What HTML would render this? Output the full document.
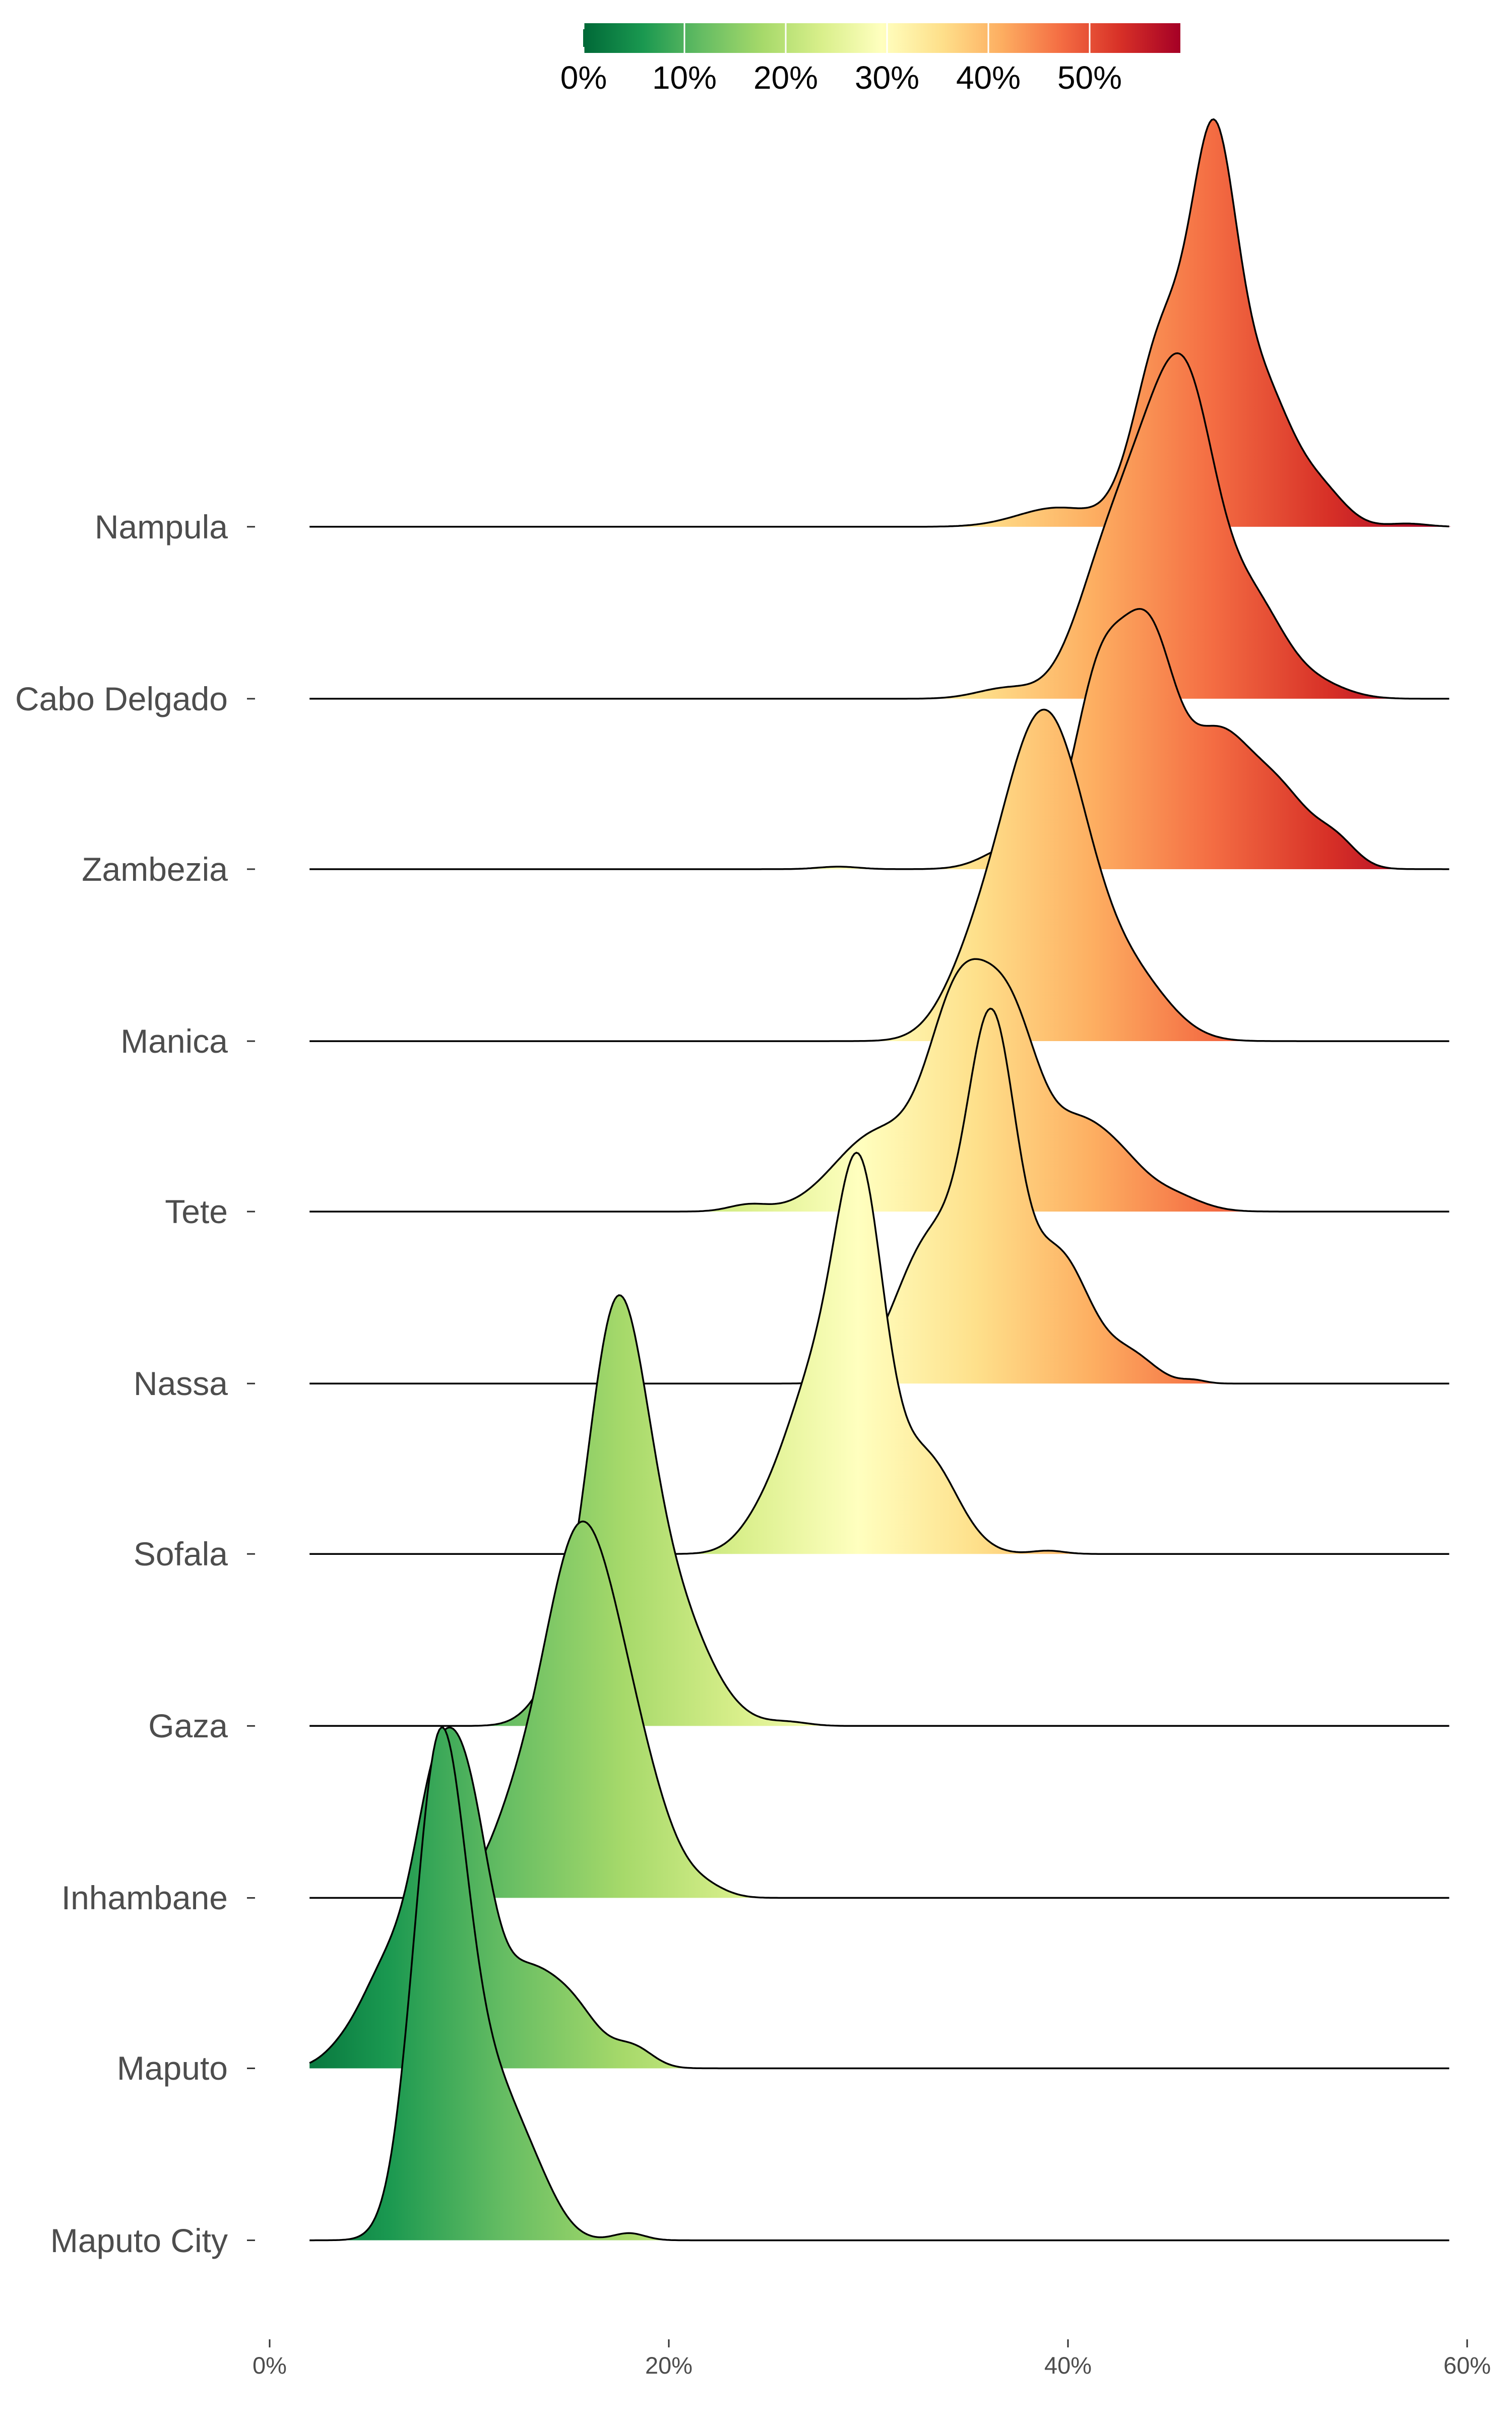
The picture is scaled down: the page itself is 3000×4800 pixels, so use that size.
<!DOCTYPE html>
<html><head><meta charset="utf-8"><style>
html,body{margin:0;padding:0;background:#fff;}
svg{display:block}
</style></head><body>
<svg id="s" width="3000" height="4800" viewBox="0 0 3000 4800" xmlns="http://www.w3.org/2000/svg">
<defs>
<linearGradient id="g" gradientUnits="userSpaceOnUse" x1="535" y1="0" x2="2871" y2="0">
<stop offset="0" stop-color="#006837"/><stop offset="0.1" stop-color="#1a9850"/><stop offset="0.2" stop-color="#66bd63"/><stop offset="0.3" stop-color="#a6d96a"/><stop offset="0.4" stop-color="#d9ef8b"/><stop offset="0.5" stop-color="#ffffbf"/><stop offset="0.6" stop-color="#fee08b"/><stop offset="0.7" stop-color="#fdae61"/><stop offset="0.8" stop-color="#f46d43"/><stop offset="0.9" stop-color="#d73027"/><stop offset="1" stop-color="#a50026"/>
</linearGradient>
<linearGradient id="cb" x1="0" y1="0" x2="1" y2="0">
<stop offset="0" stop-color="#006837"/><stop offset="0.1" stop-color="#1a9850"/><stop offset="0.2" stop-color="#66bd63"/><stop offset="0.3" stop-color="#a6d96a"/><stop offset="0.4" stop-color="#d9ef8b"/><stop offset="0.5" stop-color="#ffffbf"/><stop offset="0.6" stop-color="#fee08b"/><stop offset="0.7" stop-color="#fdae61"/><stop offset="0.8" stop-color="#f46d43"/><stop offset="0.9" stop-color="#d73027"/><stop offset="1" stop-color="#a50026"/>
</linearGradient>
</defs>
<rect x="1157" y="46" width="1185" height="59" fill="url(#cb)"/>
<g stroke="#fff" stroke-width="3">
<line x1="1158" y1="46" x2="1158" y2="58"/><line x1="1158" y1="93" x2="1158" y2="105"/>
<line x1="1358" y1="46" x2="1358" y2="105"/><line x1="1559" y1="46" x2="1559" y2="105"/>
<line x1="1760" y1="46" x2="1760" y2="105"/><line x1="1961" y1="46" x2="1961" y2="105"/>
<line x1="2162" y1="46" x2="2162" y2="105"/>
</g>
<g font-family="Liberation Sans, sans-serif" font-size="64" fill="#000" text-anchor="middle">
<text x="1158" y="176">0%</text><text x="1358" y="176">10%</text><text x="1559" y="176">20%</text>
<text x="1760" y="176">30%</text><text x="1961" y="176">40%</text><text x="2162" y="176">50%</text>
</g>
<g id="ridges"></g>
<g id="labels" font-family="Liberation Sans, sans-serif" font-size="66" fill="#4d4d4d" text-anchor="end"></g>
<g font-family="Liberation Sans, sans-serif" font-size="47" fill="#4d4d4d" text-anchor="middle">
<line x1="535" y1="4640" x2="535" y2="4656" stroke="#333" stroke-width="3"/>
<line x1="1327" y1="4640" x2="1327" y2="4656" stroke="#333" stroke-width="3"/>
<line x1="2119" y1="4640" x2="2119" y2="4656" stroke="#333" stroke-width="3"/>
<line x1="2911" y1="4640" x2="2911" y2="4656" stroke="#333" stroke-width="3"/>
<text x="535" y="4708">0%</text><text x="1327" y="4708">20%</text><text x="2119" y="4708">40%</text><text x="2911" y="4708">60%</text>
</g>
</svg>
<script>
var S=3.073;
var data=[
["Nampula",340,263,[[47.3,1,1.1],[44.8,0.6,1.4],[49.6,0.45,1.6],[52.8,0.09,1.2],[39.5,0.06,2],[57,0.01,1]]],
["Cabo Delgado",451,223,[[44.2,0.8,1.8],[46.2,0.7,1.4],[41.5,0.3,1.5],[49.2,0.35,1.6],[52.5,0.05,1.5],[37,0.04,1.5]]],
["Zambezia",561,168,[[41.6,0.75,1.3],[44.1,0.85,1.3],[47.3,0.45,1.5],[50.3,0.33,1.8],[53.5,0.08,1.0],[37.5,0.1,1.5],[28.5,0.01,1]]],
["Manica",672,214,[[38.8,1,2.2],[35,0.12,1.5],[43.5,0.15,1.8]]],
["Tete",782,163,[[34.5,0.85,1.5],[37.2,0.8,1.5],[40.5,0.3,1.3],[42.5,0.2,1.3],[30.5,0.35,2.2],[45,0.08,1.5],[24,0.03,1]]],
["Nassa",893,242,[[36.2,1,1.2],[33.2,0.45,1.8],[39.5,0.4,1.6],[43.2,0.08,1.2],[46.3,0.01,0.6]]],
["Sofala",1003,259,[[29.6,1,1.2],[27.3,0.5,1.6],[32.8,0.3,1.6],[24.5,0.06,1.2],[39,0.01,0.8]]],
["Gaza",1114,278,[[17.3,1,1.5],[19.8,0.35,2],[14.2,0.07,1.2],[26,0.01,1]]],
["Inhambane",1225,243,[[15.3,1,1.8],[18,0.4,1.8],[12,0.15,1.3],[22,0.02,1]]],
["Maputo",1335,220,[[8.3,1,1.1],[10,0.95,1.1],[12.8,0.4,1.5],[15.3,0.22,1.3],[18.2,0.09,1.0],[6,0.45,1.4],[3.5,0.05,1]]],
["Maputo City",1446,331,[[8.5,1,1.3],[11.2,0.3,1.6],[13.5,0.06,1.2],[18,0.015,0.8]]]
];
function X(p){return 535+p*39.6;}
var rg=document.getElementById('ridges'),lb=document.getElementById('labels'),ns="http://www.w3.org/2000/svg";
data.forEach(function(d){
  var base=d[1]*S, h=d[2]*S, comps=d[3], pts=[], mx=0;
  for(var p=2;p<=59.2;p+=0.1){
    var v=0;comps.forEach(function(c){v+=c[1]*Math.exp(-0.5*Math.pow((p-c[0])/c[2],2));});
    pts.push([p,v]);if(v>mx)mx=v;
  }
  var line="";
  pts.forEach(function(q,i){line+=(i?"L":"M")+X(q[0]).toFixed(1)+","+(base-q[1]/mx*h).toFixed(1);});
  var f=document.createElementNS(ns,"path");
  f.setAttribute("d",line+"L"+X(59.2)+","+base+"L"+X(2)+","+base+"Z");
  f.setAttribute("fill","url(#g)");rg.appendChild(f);
  var l=document.createElementNS(ns,"path");
  l.setAttribute("d",line);l.setAttribute("fill","none");l.setAttribute("stroke","#000");l.setAttribute("stroke-width","3.5");
  rg.appendChild(l);
  var t=document.createElementNS(ns,"text");t.setAttribute("x","452");t.setAttribute("y",(base+23).toFixed(0));t.textContent=d[0];lb.appendChild(t);
  var tk=document.createElementNS(ns,"line");tk.setAttribute("x1","490");tk.setAttribute("x2","506");tk.setAttribute("y1",base);tk.setAttribute("y2",base);tk.setAttribute("stroke","#333");tk.setAttribute("stroke-width","3");lb.appendChild(tk);
});
</script>
</body></html>
